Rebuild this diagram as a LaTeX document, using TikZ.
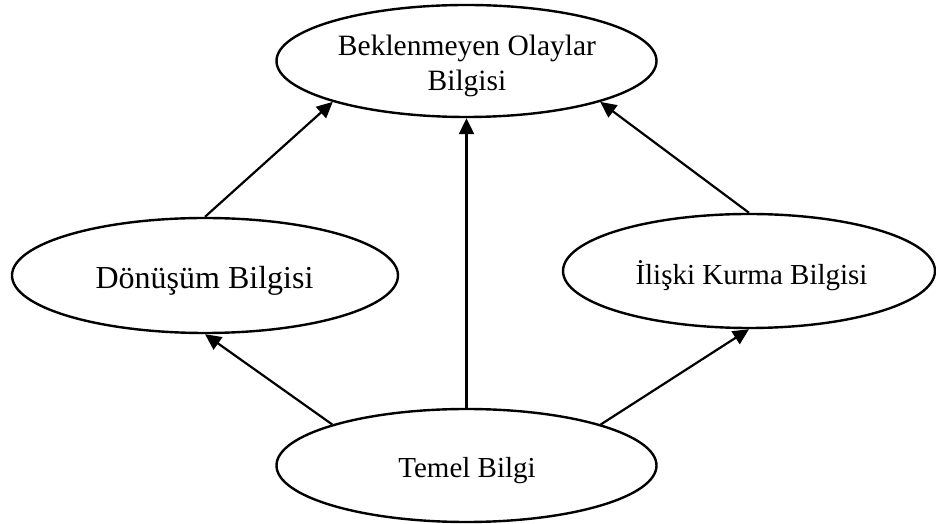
\documentclass[tikz,border=0pt]{standalone}
\usepackage{fontspec}
\setmainfont{Liberation Serif}
\usetikzlibrary{shapes.geometric,arrows.meta}

\begin{document}
\begin{tikzpicture}[x=1pt,y=1pt,
  blob/.style={ellipse,draw=black,line width=2.4pt,fill=white,inner sep=0pt},
  lbl/.style={inner sep=0pt,align=center,font=\fontsize{29.5}{35}\selectfont},
  link/.style={line width=2.2pt,-{Triangle[length=16pt,width=15pt]}}]
  \useasboundingbox (0,0) rectangle (936,524);

  % ellipses
  \node[blob,minimum width=380pt,minimum height=112pt] (top) at (466.5,463) {};
  \node[blob,minimum width=386pt,minimum height=115pt] (left) at (205,248.5) {};
  \node[blob,minimum width=372pt,minimum height=114pt] (right) at (749,253) {};
  \node[blob,minimum width=380pt,minimum height=113pt] (bottom) at (466.5,58.5) {};

  % texts
  \node[lbl] (topText) at (467,457.7) {Beklenmeyen Olaylar\\Bilgisi};
  \node[lbl,font=\fontsize{32}{38}\selectfont] (leftText) at (204.5,243.5) {Dönüşüm Bilgisi};
  \node[lbl,font=\fontsize{29}{35}\selectfont] (rightText) at (751.5,248.75) {İlişki Kurma Bilgisi};
  \node[lbl,font=\fontsize{29}{35}\selectfont] (bottomText) at (467,53.75) {Temel Bilgi};

  % connectors
  \draw[link] (left.north) -- (top.197);
  \draw[link] (bottom.north) -- (top.south);
  \draw[link] (right.north) -- (top.343);
  \draw[link] (bottom.163) -- (left.south);
  \draw[link] (bottom.17) -- (right.south);
\end{tikzpicture}
\end{document}
